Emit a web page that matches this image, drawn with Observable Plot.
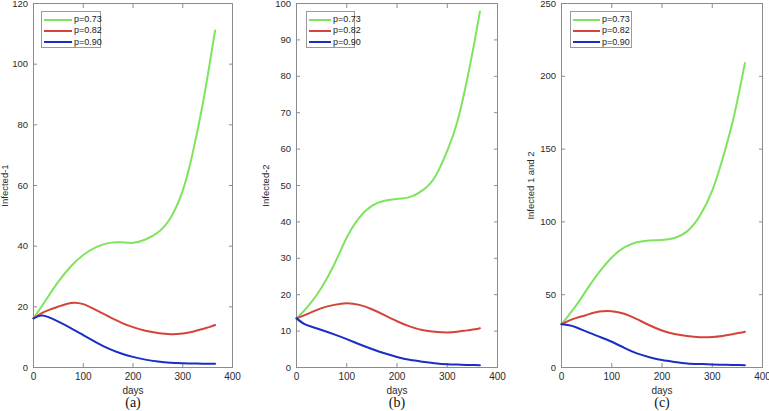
<!DOCTYPE html>
<html>
<head>
<meta charset="utf-8">
<script src="https://cdn.jsdelivr.net/npm/d3@7"></script>
<script src="https://cdn.jsdelivr.net/npm/@observablehq/plot@0.6"></script>
<style>
  html, body { margin: 0; padding: 0; background: #fff; }
  #root { position: relative; width: 769px; height: 411px; overflow: hidden; font-family: "Liberation Sans", Arial, sans-serif; }
  .panel { position: absolute; top: 0; }
  .legend { position: absolute; background: #fff; border: 1px solid #9a9a9a; box-sizing: border-box; }
  .legend .row { position: absolute; left: 0; height: 11px; }
  .legend .ln { position: absolute; height: 2px; }
  .legend .tx { position: absolute; font-size: 9px; line-height: 11px; color: #222; white-space: nowrap; }
</style>
</head>
<body>
<div id="root"></div>
<script>
// ---- data ----
const days = [0, 15, 30, 50, 75, 100, 125, 150, 175, 200, 225, 250, 275, 300, 320, 340, 355, 365];
const seriesLabels = ["p=0.73", "p=0.82", "p=0.90"];
const xTicks = [0, 100, 200, 300, 400];

// panel (a): Infected-1
const aGreen = [16.2, 19.8, 23.5, 28.3, 33.3, 37.1, 39.6, 41.0, 41.3, 41.1, 42.2, 44.5, 49.2, 58.3, 70.7, 86.7, 101, 111.1];
const aRed   = [16.2, 17.8, 18.9, 20.1, 21.3, 20.9, 19.0, 16.9, 14.9, 13.3, 12.1, 11.4, 11.0, 11.2, 11.8, 12.7, 13.4, 14.0];
const aBlue  = [16.2, 17.1, 16.6, 15.1, 13.0, 10.7, 8.4, 6.3, 4.7, 3.5, 2.6, 2.0, 1.6, 1.4, 1.3, 1.25, 1.2, 1.2];
const aTicks = [0, 20, 40, 60, 80, 100, 120];

// panel (b): Infected-2
const bGreen = [13.5, 15.6, 18.0, 22.0, 28.3, 35.7, 41.2, 44.4, 45.8, 46.3, 46.8, 48.6, 52.2, 59.5, 67.5, 79.4, 90, 97.8];
const bRed   = [13.5, 14.3, 15.2, 16.3, 17.2, 17.65, 17.2, 16.0, 14.4, 12.7, 11.3, 10.3, 9.8, 9.6, 9.8, 10.2, 10.5, 10.8];
const bBlue  = [13.5, 12.0, 11.2, 10.3, 9.1, 7.8, 6.4, 5.1, 3.9, 2.9, 2.1, 1.6, 1.2, 0.9, 0.8, 0.72, 0.68, 0.65];
const bTicks = [0, 10, 20, 30, 40, 50, 60, 70, 80, 90, 100];

// panel (c): Infected 1 and 2
const cGreen = [29.7, 36.2, 43.0, 53.3, 65.5, 75.5, 82.5, 86.0, 87.3, 87.6, 89.0, 93.5, 104, 121.5, 142.7, 168, 191.7, 209.2];
const cRed   = [29.7, 32.2, 34.1, 36.1, 38.4, 38.7, 36.9, 33.2, 29.0, 25.4, 23.0, 21.6, 20.8, 20.9, 21.6, 22.8, 23.8, 24.6];
const cBlue  = [29.7, 29.0, 27.5, 24.6, 21.2, 17.7, 13.5, 9.7, 7.1, 5.1, 3.8, 2.8, 2.4, 2.1, 1.9, 1.75, 1.65, 1.6];
const cTicks = [0, 50, 100, 150, 200, 250];

const yLabels = ["Infected-1", "Infected-2", "Infected 1 and 2"];
const captions = ["(a)", "(b)", "(c)"];

// ---- styling / layout ----
const colors = ["#7fe35e", "#d4443b", "#1a2ec4"];
const frameGray = "#8c8c8c";
const textColor = "#2a2a2a";

const panels = [
  {left: 0,   width: 240, ml: 33, mr: 8, series: [aGreen, aRed, aBlue], ticks: aTicks, domain: [0, 120], label: yLabels[0], cap: captions[0], lo: 32,
   lg: {dx: 8, w: 60, l0: 2, l1: 30, t: 32}},
  {left: 260, width: 245, ml: 36, mr: 8, series: [bGreen, bRed, bBlue], ticks: bTicks, domain: [0, 100], label: yLabels[1], cap: captions[1], lo: 34,
   lg: {dx: 10, w: 49, l0: 2, l1: 24, t: 26}},
  {left: 515, width: 254, ml: 46, mr: 7, series: [cGreen, cRed, cBlue], ticks: cTicks, domain: [0, 250], label: yLabels[2], cap: captions[2], lo: 34,
   lg: {dx: 9, w: 62, l0: 2, l1: 29, t: 31}}
];

const root = document.getElementById("root");

panels.forEach(p => {
  const rows = p.series.flatMap((vals, si) => vals.map((v, i) => ({day: days[i], value: v, series: seriesLabels[si]})));
  const chart = Plot.plot({
    width: p.width,
    height: 411,
    marginLeft: p.ml,
    marginRight: p.mr,
    marginTop: 3,
    marginBottom: 44,
    style: {fontFamily: "'Liberation Sans', Arial, sans-serif", fontSize: "9.5px", background: "transparent", overflow: "visible"},
    x: {domain: [0, 400]},
    y: {domain: p.domain},
    color: {domain: seriesLabels, range: colors},
    marks: [
      Plot.frame({stroke: frameGray}),
      Plot.axisX({anchor: "bottom", ticks: xTicks, tickSize: -4, tickPadding: 9, stroke: frameGray, fill: textColor,
                  label: "days", labelAnchor: "center", labelArrow: "none", labelOffset: 26, fontSize: 10}),
      Plot.axisX({anchor: "top", ticks: xTicks, tickSize: -4, tickFormat: () => "", stroke: frameGray, label: null}),
      Plot.axisY({anchor: "left", ticks: p.ticks, tickSize: -4, tickPadding: 9.5, stroke: frameGray, fill: textColor,
                  label: p.label, labelAnchor: "center", labelArrow: "none", labelOffset: p.lo}),
      Plot.axisY({anchor: "right", ticks: p.ticks, tickSize: -4, tickFormat: () => "", stroke: frameGray, label: null}),
      Plot.line(rows, {x: "day", y: "value", z: "series", stroke: "series", strokeWidth: 2, curve: "natural"}),
      Plot.text([p.cap], {frameAnchor: "bottom", dy: 39, fontFamily: "'Liberation Serif', 'Times New Roman', serif", fontSize: 14, fill: "#111"})
    ]
  });
  const div = document.createElement("div");
  div.className = "panel";
  div.style.left = p.left + "px";
  div.style.width = p.width + "px";
  div.appendChild(chart);

  // legend overlay
  const lg = document.createElement("div");
  lg.className = "legend";
  lg.style.left = (p.ml + p.lg.dx) + "px";
  lg.style.top = "11px";
  lg.style.width = p.lg.w + "px";
  lg.style.height = "37px";
  seriesLabels.forEach((s, i) => {
    const row = document.createElement("div");
    row.className = "row";
    row.style.top = (2 + i * 11.3) + "px";
    row.style.width = "100%";
    const ln = document.createElement("div");
    ln.className = "ln";
    ln.style.left = p.lg.l0 + "px";
    ln.style.width = (p.lg.l1 - p.lg.l0) + "px";
    ln.style.top = "4.5px";
    ln.style.background = colors[i];
    const tx = document.createElement("div");
    tx.className = "tx";
    tx.style.left = p.lg.t + "px";
    tx.style.top = "0px";
    tx.textContent = s;
    row.appendChild(ln);
    row.appendChild(tx);
    lg.appendChild(row);
  });
  div.appendChild(lg);
  root.appendChild(div);
});
</script>
</body>
</html>
